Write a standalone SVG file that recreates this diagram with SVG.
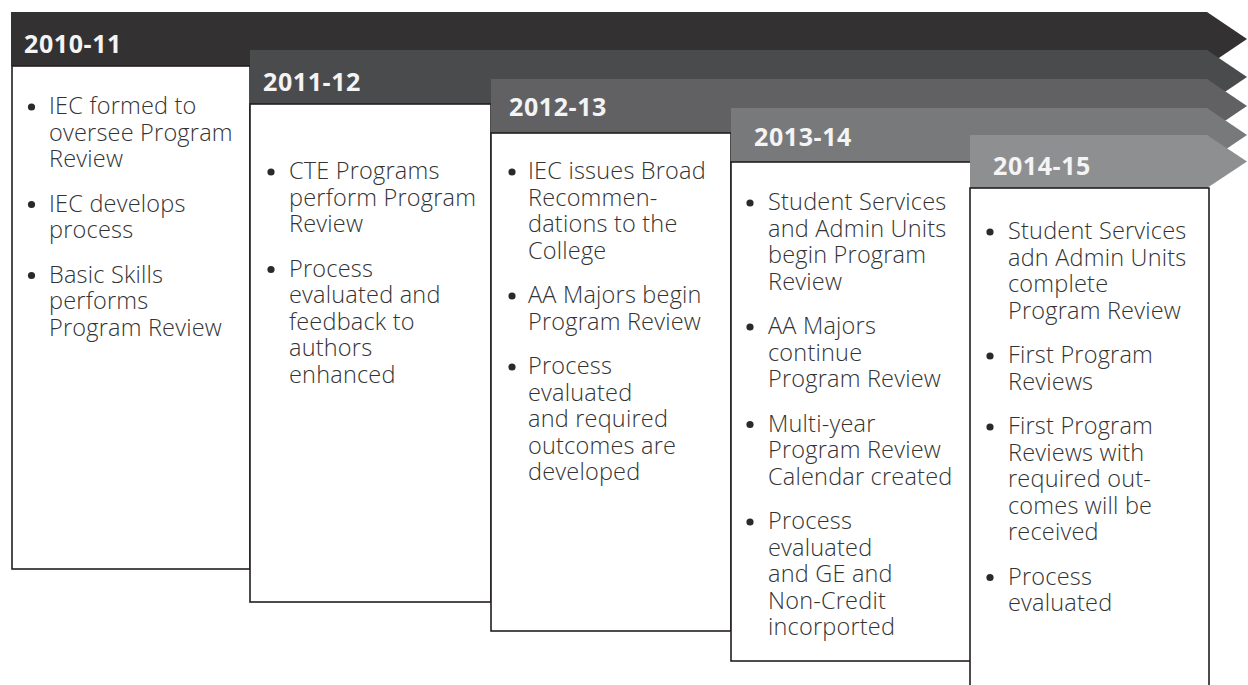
<svg xmlns="http://www.w3.org/2000/svg" width="1248" height="685" viewBox="0 0 1248 685">
  <style>
    .box { fill: #ffffff; stroke: #231f20; stroke-width: 1.6; }
    .year { font-family: "Open Sans", "Liberation Sans", sans-serif; font-weight: 700; font-size: 25px; letter-spacing: 0.6px; fill: #f4f4f4; }
    .item { font-family: "Open Sans", "Liberation Sans", sans-serif; font-weight: 300; font-size: 23.5px; letter-spacing: 0.2px; fill: #333333; }
    .dot { fill: #2a2a2a; }
  </style>
  <rect width="1248" height="685" fill="#ffffff"/>

  <!-- 2010-11 -->
  <g id="y2010">
    <polygon points="11,12 1207,12 1247,39 1207,66 11,66" fill="#333132"/>
    <rect class="box" x="12" y="66" width="238" height="503"/>
    <text class="year" x="24" y="53">2010-11</text>
    <circle class="dot" cx="31.5" cy="107" r="3.6"/>
    <circle class="dot" cx="31.5" cy="204.5" r="3.6"/>
    <circle class="dot" cx="31.5" cy="275.5" r="3.6"/>
    <text class="item">
      <tspan x="49" y="114">IEC formed to</tspan>
      <tspan x="49" y="140.5">oversee Program</tspan>
      <tspan x="49" y="167">Review</tspan>
      <tspan x="49" y="211.5">IEC develops</tspan>
      <tspan x="49" y="238">process</tspan>
      <tspan x="49" y="282.5">Basic Skills</tspan>
      <tspan x="49" y="309">performs</tspan>
      <tspan x="49" y="335.5">Program Review</tspan>
    </text>
  </g>

  <!-- 2011-12 -->
  <g id="y2011">
    <polygon points="250,50 1207,50 1247,77 1207,104 250,104" fill="#4a4b4d"/>
    <rect class="box" x="250" y="104" width="241" height="498"/>
    <text class="year" x="263" y="91">2011-12</text>
    <circle class="dot" cx="271" cy="172" r="3.6"/>
    <circle class="dot" cx="271" cy="269.5" r="3.6"/>
    <text class="item">
      <tspan x="289" y="179">CTE Programs</tspan>
      <tspan x="289" y="205.5">perform Program</tspan>
      <tspan x="289" y="232">Review</tspan>
      <tspan x="289" y="276.5">Process</tspan>
      <tspan x="289" y="303">evaluated and</tspan>
      <tspan x="289" y="329.5">feedback to</tspan>
      <tspan x="289" y="356">authors</tspan>
      <tspan x="289" y="382.5">enhanced</tspan>
    </text>
  </g>

  <!-- 2012-13 -->
  <g id="y2012">
    <polygon points="491,79 1207,79 1247,106 1207,133 491,133" fill="#616163"/>
    <rect class="box" x="491" y="133" width="240" height="498"/>
    <text class="year" x="509" y="116">2012-13</text>
    <circle class="dot" cx="512" cy="172" r="3.6"/>
    <circle class="dot" cx="512" cy="296" r="3.6"/>
    <circle class="dot" cx="512" cy="367" r="3.6"/>
    <text class="item">
      <tspan x="528" y="179">IEC issues Broad</tspan>
      <tspan x="528" y="205.5">Recommen-</tspan>
      <tspan x="528" y="232">dations to the</tspan>
      <tspan x="528" y="258.5">College</tspan>
      <tspan x="528" y="303">AA Majors begin</tspan>
      <tspan x="528" y="329.5">Program Review</tspan>
      <tspan x="528" y="374">Process</tspan>
      <tspan x="528" y="400.5">evaluated</tspan>
      <tspan x="528" y="427">and required</tspan>
      <tspan x="528" y="453.5">outcomes are</tspan>
      <tspan x="528" y="480">developed</tspan>
    </text>
  </g>

  <!-- 2013-14 -->
  <g id="y2013">
    <polygon points="731,108 1207,108 1247,135 1207,162 731,162" fill="#78797b"/>
    <rect class="box" x="731" y="162" width="240" height="499"/>
    <text class="year" x="754" y="146">2013-14</text>
    <circle class="dot" cx="750" cy="203" r="3.6"/>
    <circle class="dot" cx="750" cy="327" r="3.6"/>
    <circle class="dot" cx="750" cy="424.5" r="3.6"/>
    <circle class="dot" cx="750" cy="522" r="3.6"/>
    <text class="item">
      <tspan x="768" y="210">Student Services</tspan>
      <tspan x="768" y="236.5">and Admin Units</tspan>
      <tspan x="768" y="263">begin Program</tspan>
      <tspan x="768" y="289.5">Review</tspan>
      <tspan x="768" y="334">AA Majors</tspan>
      <tspan x="768" y="360.5">continue</tspan>
      <tspan x="768" y="387">Program Review</tspan>
      <tspan x="768" y="431.5">Multi-year</tspan>
      <tspan x="768" y="458">Program Review</tspan>
      <tspan x="768" y="484.5">Calendar created</tspan>
      <tspan x="768" y="529">Process</tspan>
      <tspan x="768" y="555.5">evaluated</tspan>
      <tspan x="768" y="582">and GE and</tspan>
      <tspan x="768" y="608.5">Non-Credit</tspan>
      <tspan x="768" y="635">incorported</tspan>
    </text>
  </g>

  <!-- 2014-15 -->
  <g id="y2014">
    <polygon points="970,135 1207,135 1247,161.5 1207,188 970,188" fill="#8e8f91"/>
    <rect class="box" x="970" y="188" width="239" height="520"/>
    <text class="year" x="993" y="175">2014-15</text>
    <circle class="dot" cx="990" cy="232" r="3.6"/>
    <circle class="dot" cx="990" cy="356" r="3.6"/>
    <circle class="dot" cx="990" cy="427" r="3.6"/>
    <circle class="dot" cx="990" cy="577.5" r="3.6"/>
    <text class="item">
      <tspan x="1008" y="239">Student Services</tspan>
      <tspan x="1008" y="265.5">adn Admin Units</tspan>
      <tspan x="1008" y="292">complete</tspan>
      <tspan x="1008" y="318.5">Program Review</tspan>
      <tspan x="1008" y="363">First Program</tspan>
      <tspan x="1008" y="389.5">Reviews</tspan>
      <tspan x="1008" y="434">First Program</tspan>
      <tspan x="1008" y="460.5">Reviews with</tspan>
      <tspan x="1008" y="487">required out-</tspan>
      <tspan x="1008" y="513.5">comes will be</tspan>
      <tspan x="1008" y="540">received</tspan>
      <tspan x="1008" y="584.5">Process</tspan>
      <tspan x="1008" y="611">evaluated</tspan>
    </text>
  </g>
</svg>
